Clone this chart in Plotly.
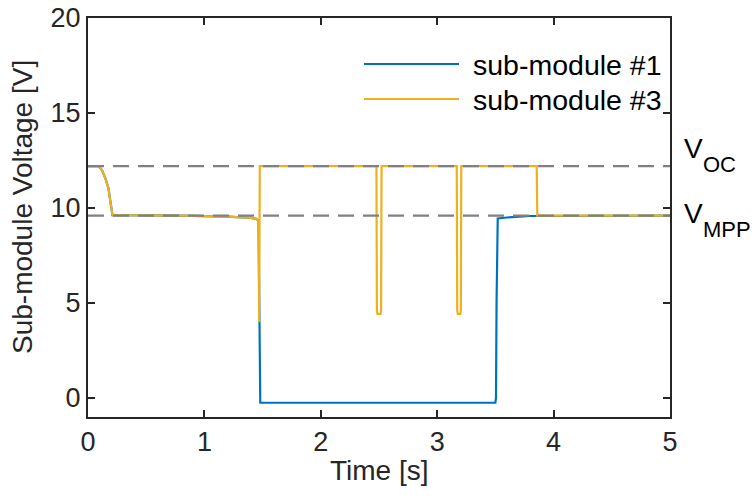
import plotly.graph_objects as go

# ---- data ----
t_sm1 = [0, 0.09, 0.12, 0.15, 0.175, 0.19, 0.2, 0.21, 0.8, 1.2, 1.4, 1.45, 1.465, 1.47, 1.48,
         3.5, 3.505, 3.51, 3.52, 3.6, 3.8, 5.0]
v_sm1 = [12.2, 12.2, 12.0, 11.55, 11.05, 10.5, 9.9, 9.62, 9.6, 9.55, 9.48, 9.42, 9.3, 5.0, -0.25,
         -0.25, 0.0, 5.0, 9.45, 9.5, 9.58, 9.6]

t_sm3 = [0, 0.09, 0.12, 0.15, 0.175, 0.19, 0.2, 0.21, 0.8, 1.2, 1.4, 1.45, 1.465, 1.47, 1.476,
         2.478, 2.482, 2.487, 2.513, 2.518, 2.522,
         3.168, 3.172, 3.177, 3.198, 3.203, 3.207,
         3.855, 3.86, 5.0]
v_sm3 = [12.2, 12.2, 12.0, 11.55, 11.05, 10.5, 9.9, 9.62, 9.6, 9.55, 9.48, 9.42, 9.3, 4.0, 12.2,
         12.2, 4.6, 4.42, 4.42, 4.6, 12.2,
         12.2, 4.6, 4.42, 4.42, 4.6, 12.2,
         12.2, 9.6, 9.6]

V_OC = 12.2
V_MPP = 9.6
t_span = [0, 5]

x_ticks = [0, 1, 2, 3, 4, 5]
y_ticks = [0, 5, 10, 15, 20]

legend_names = ["sub-module #1", "sub-module #3"]

BLUE = "#0072BD"
YELLOW = "#EDB120"
GRAY = "#808080"
AX = "#262626"
FONT = "Liberation Sans, Arial, Helvetica, sans-serif"
FS = 28

W, H = 754, 498
L, R, T, B = 88, 84, 18, 81
PW, PH = W - L - R, H - T - B


def px_x(p):
    return (p - L) / PW


def px_y(p):
    return (H - B - p) / PH


fig = go.Figure()
fig.add_trace(go.Scatter(x=t_sm1, y=v_sm1, mode="lines", line=dict(color=BLUE, width=2.2),
                         name=legend_names[0], showlegend=False))
fig.add_trace(go.Scatter(x=t_sm3, y=v_sm3, mode="lines", line=dict(color=YELLOW, width=2.2),
                         name=legend_names[1], showlegend=False))
fig.add_trace(go.Scatter(x=t_span, y=[V_OC, V_OC], mode="lines",
                         line=dict(color=GRAY, width=2.2, dash="16px,9px"), showlegend=False))
fig.add_trace(go.Scatter(x=t_span, y=[V_MPP, V_MPP], mode="lines",
                         line=dict(color=GRAY, width=2.2, dash="16px,9px"), showlegend=False))

axis_common = dict(showline=True, linecolor=AX, linewidth=2, mirror="allticks",
                   ticks="inside", ticklen=7, tickwidth=2, tickcolor=AX,
                   showgrid=False, zeroline=False, automargin=False,
                   tickfont=dict(family=FONT, size=FS - 1, color=AX))

fig.update_xaxes(range=[0, 5], tickvals=x_ticks, ticktext=[str(v) for v in x_ticks], **axis_common)
fig.update_yaxes(range=[-1.0, 20], tickvals=y_ticks, ticktext=[str(v) for v in y_ticks], **axis_common)

# manual legend (MATLAB style, no box)
for i, (name, col) in enumerate(zip(legend_names, [BLUE, YELLOW])):
    ypix = 64 + 35 * i
    fig.add_shape(type="line", xref="paper", yref="paper",
                  x0=px_x(364), x1=px_x(459), y0=px_y(ypix), y1=px_y(ypix),
                  line=dict(color=col, width=2.2))
    fig.add_annotation(xref="paper", yref="paper", x=px_x(471), y=px_y(ypix + 1),
                       xanchor="left", yanchor="middle", text=name, showarrow=False,
                       font=dict(family=FONT, size=FS + 0.5, color="black"))

# V labels (main letter + larger subscript, MATLAB style)
for main_y, sub_y, sub_x, sub in [(148, 164, 701, "OC"), (213, 229, 701, "MPP")]:
    fig.add_annotation(xref="paper", yref="paper", x=px_x(682), y=px_y(main_y),
                       xanchor="left", yanchor="middle", text="V", showarrow=False,
                       font=dict(family=FONT, size=28, color="black"))
    fig.add_annotation(xref="paper", yref="paper", x=px_x(sub_x), y=px_y(sub_y),
                       xanchor="left", yanchor="middle", text=sub, showarrow=False,
                       font=dict(family=FONT, size=22, color="black"))

# axis titles
fig.add_annotation(xref="paper", yref="paper", x=0.5, y=px_y(470),
                   xanchor="center", yanchor="middle", text="Time [s]", showarrow=False,
                   font=dict(family=FONT, size=FS, color=AX))
fig.add_annotation(xref="paper", yref="paper", x=px_x(22), y=px_y(207),
                   xanchor="center", yanchor="middle", text="Sub-module Voltage [V]",
                   textangle=-90, showarrow=False,
                   font=dict(family=FONT, size=FS, color=AX))

fig.update_layout(width=W, height=H, margin=dict(l=L, r=R, t=T, b=B),
                  paper_bgcolor="white", plot_bgcolor="white", showlegend=False)

fig.write_html("out.html")
